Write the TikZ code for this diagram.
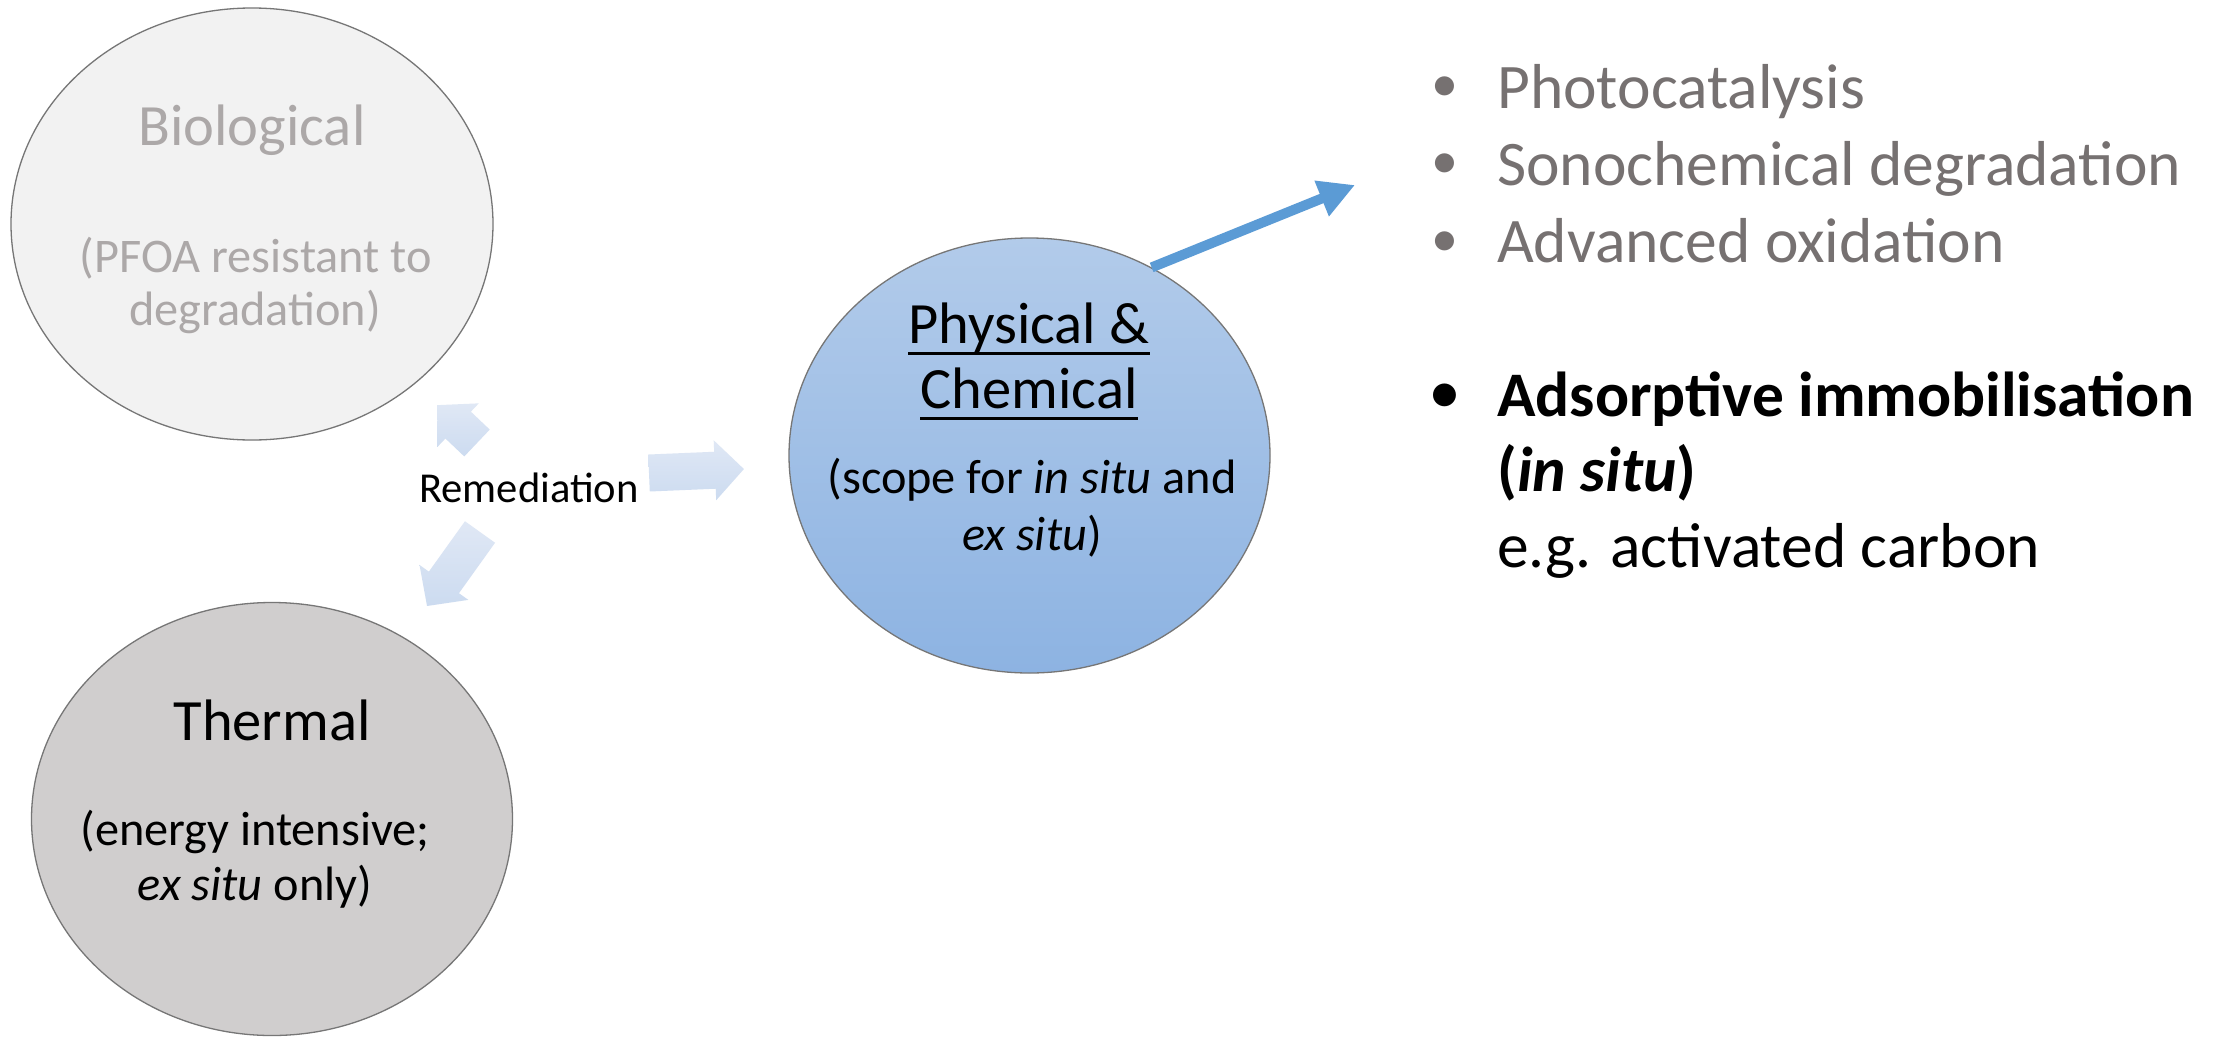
\documentclass[tikz,border=0pt]{standalone}
\usepackage{fontspec}
\setmainfont{Carlito}
\usetikzlibrary{shapes.geometric,arrows.meta}
\definecolor{biofill}{RGB}{242,242,242}
\definecolor{biotext}{RGB}{172,168,168}
\definecolor{thermfill}{RGB}{208,206,206}
\definecolor{phystop}{RGB}{178,203,234}
\definecolor{physbot}{RGB}{141,179,226}
\definecolor{edgegray}{RGB}{118,118,118}
\definecolor{listgray}{RGB}{118,113,113}
\definecolor{arrowblue}{RGB}{91,155,213}
\definecolor{remtop}{RGB}{224,232,245}
\definecolor{rembot}{RGB}{204,219,240}
\newcommand{\blockarr}[3]{%
  \begin{scope}[shift={#1}, rotate=#2]
    \path[top color=remtop, bottom color=rembot]
      (0,-18.5) -- ({#3-29},-18.5) -- ({#3-29},-30) -- (#3,0)
      -- ({#3-29},30) -- ({#3-29},18.5) -- (0,18.5) -- cycle;
  \end{scope}}
\begin{document}
\begin{tikzpicture}[x=1pt,y=-1pt,
  ell/.style={ellipse, draw=edgegray, line width=1.3pt, inner sep=0pt},
  txt/.style={anchor=base, inner sep=0pt},
  ttl/.style={txt, font=\fontsize{58.5}{62}\selectfont},
  sub/.style={txt, font=\fontsize{48.3}{52}\selectfont},
  lst/.style={anchor=base west, inner sep=0pt, font=\fontsize{63.5}{70}\selectfont},
  bul/.style={anchor=base, inner sep=0pt, font=\fontsize{54}{60}\selectfont}]
\useasboundingbox (0,0) rectangle (2223,1036);
\fill[white] (0,0) rectangle (2223,1036);

% ellipses
\node[ell, fill=biofill, minimum width=482pt, minimum height=432pt] (bio) at (252,224) {};
\node[ell, fill=thermfill, minimum width=481pt, minimum height=433pt] (therm) at (272,819) {};
\node[ell, top color=phystop, bottom color=physbot, minimum width=481pt, minimum height=435pt] (phys) at (1029.5,455.5) {};

% Biological
\node[ttl, text=biotext] (biot) at (252,145) {Biological};
\node[sub, text=biotext] (bios1) at (256,272) {(PFOA resistant to};
\node[sub, text=biotext] (bios2) at (255,325) {degradation)};

% Thermal
\node[ttl] (thermt) at (272,740) {Thermal};
\node[sub] (therms1) at (255,845) {(energy intensive;};
\node[sub] (therms2) at (255,900) {\textit{ex situ} only)};

% Physical & Chemical
\node[ttl] (physt1) at (1029,343) {Physical \&};
\node[ttl] (physt2) at (1029,408) {Chemical};
\draw[line width=3.2pt] ([yshift=-10.5pt]physt1.base west) -- ([yshift=-10.5pt]physt1.base east);
\draw[line width=3.2pt] ([yshift=-10.5pt]physt2.base west) -- ([yshift=-10.5pt]physt2.base east);
\node[sub] (physs1) at (1032,493) {(scope for \textit{in situ} and};
\node[sub] (physs2) at (1032,550) {\textit{ex situ})};

% Remediation
\node[txt, font=\fontsize{42.6}{46}\selectfont] (rem) at (529,502) {Remediation};
\blockarr{(477,443)}{136.5}{55}
\blockarr{(649,473)}{2.4}{95}
\blockarr{(480,532)}{234.4}{91}

% blue arrow
\coordinate (ptip) at (1355,185);
\draw[line width=10pt, arrowblue, -{Triangle[width=36pt,length=36pt]}] (phys.57) -- (ptip);

% list
\node[bul, text=listgray] (b1) at (1445,101.5) {\textbullet};
\node[lst, text=listgray] (l1) at (1497,108) {Photocatalysis};
\node[bul, text=listgray] (b2) at (1445,178.5) {\textbullet};
\node[lst, text=listgray] (l2) at (1497,185) {Sonochemical degradation};
\node[bul, text=listgray] (b3) at (1445,256.5) {\textbullet};
\node[lst, text=listgray] (l3) at (1497,262) {Advanced oxidation};

\node[bul, font=\fontsize{54}{60}\selectfont\bfseries] (b4) at (1445,410) {\textbullet};
\node[lst, font=\fontsize{63.5}{70}\selectfont\bfseries] (l4) at (1497,416) {Adsorptive immobilisation};
\node[lst, font=\fontsize{63.5}{70}\selectfont\bfseries] (l5) at (1497,491) {(\textit{in situ})};
\node[lst] (l6) at (1497,567) {e.g. activated carbon};
\end{tikzpicture}
\end{document}
